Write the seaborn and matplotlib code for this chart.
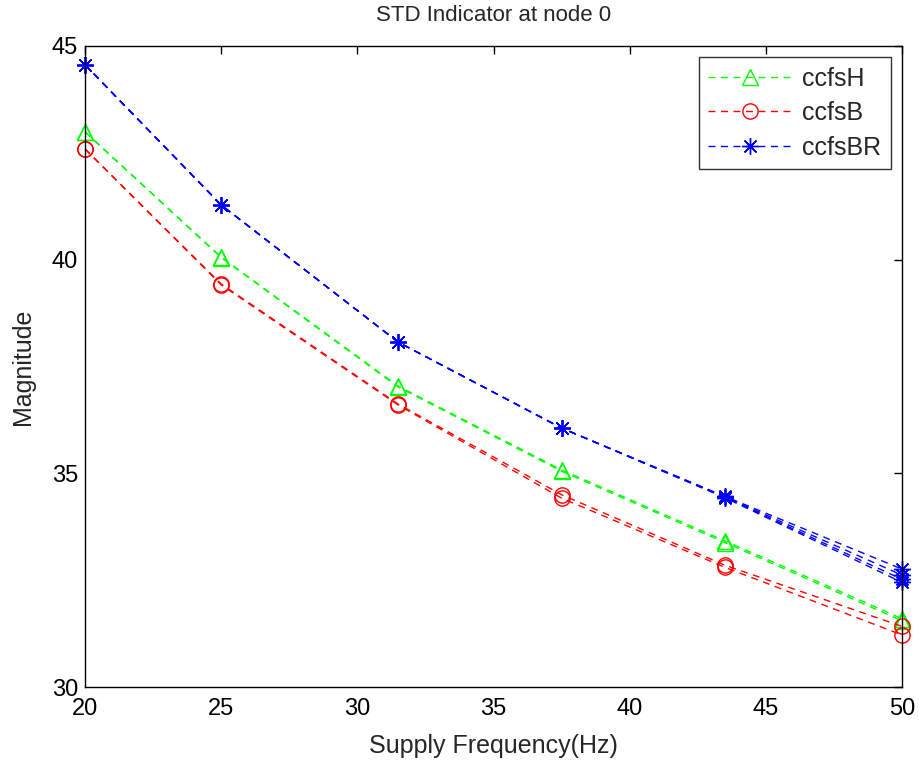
import matplotlib
matplotlib.use("Agg")
import matplotlib.pyplot as plt
import seaborn as sns
import pandas as pd
from matplotlib.lines import Line2D

freq = [20, 25, 31.5, 37.5, 43.5, 50]

# ccfsH runs
ccfsH_runs = [
    [42.99, 40.06, 37.04, 35.08, 33.42, 31.60],
    [42.99, 40.05, 37.02, 35.05, 33.38, 31.55],
]
# ccfsB runs
ccfsB_runs = [
    [42.59, 39.43, 36.62, 34.50, 32.85, 31.42],
    [42.59, 39.41, 36.60, 34.42, 32.80, 31.22],
]
# ccfsBR runs
ccfsBR_runs = [
    [44.56, 41.28, 38.07, 36.06, 34.46, 32.76],
    [44.56, 41.28, 38.07, 36.06, 34.45, 32.62],
    [44.56, 41.28, 38.07, 36.06, 34.44, 32.52],
    [44.56, 41.28, 38.07, 36.06, 34.43, 32.45],
]

series_names = ["ccfsH", "ccfsB", "ccfsBR"]
series_runs = [ccfsH_runs, ccfsB_runs, ccfsBR_runs]
colors = ["#00ff00", "#ff0000", "#0000ff"]
markers = ["^", "o", (8, 2, 0)]
msizes = [12, 11, 12]

rows = []
for name, runs in zip(series_names, series_runs):
    for r, vals in enumerate(runs):
        for f, v in zip(freq, vals):
            rows.append({"freq": f, "value": v, "series": name, "run": r})
df = pd.DataFrame(rows)

sns.set_style("white")
plt.rcParams["font.family"] = ["Liberation Sans", "DejaVu Sans"]

fig = plt.figure(figsize=(9.19, 7.6), dpi=100)
ax = fig.add_axes([0.0925, 0.096, 0.889, 0.8435])

dash = (0, (5, 4))
for name, col, mk, ms in zip(series_names, colors, markers, msizes):
    sub = df[df["series"] == name]
    for r in sorted(sub["run"].unique()):
        d = sub[sub["run"] == r]
        sns.lineplot(data=d, x="freq", y="value", ax=ax, color=col,
                     linewidth=1.0, marker=mk, markersize=ms,
                     markerfacecolor="none", markeredgecolor=col,
                     markeredgewidth=1.0, legend=False,
                     estimator=None, sort=False)
        ln = ax.lines[-1]
        ln.set_linestyle(dash)
        ln.set_clip_on(False)

ax.set_xlim(20, 50)
ax.set_ylim(30, 45)
ax.set_xticks([20, 25, 30, 35, 40, 45, 50])
ax.set_yticks([30, 35, 40, 45])
ax.tick_params(direction="in", length=6, width=1, labelsize=17, colors="black",
               top=True, right=True)
ax.tick_params(axis="x", pad=8)
ax.tick_params(axis="y", pad=5)
for s in ax.spines.values():
    s.set_color("black")
    s.set_linewidth(1.0)
ax.set_xlabel("Supply Frequency(Hz)", fontsize=18, labelpad=10)
ax.set_ylabel("Magnitude", fontsize=18, labelpad=12)
ax.set_title("STD Indicator at node 0", fontsize=16, pad=18)

handles = [Line2D([0], [0], color=c, linestyle=dash, linewidth=1.0,
                  marker=m, markersize=ms,
                  markerfacecolor="none", markeredgecolor=c)
           for c, m, ms in zip(colors, markers, msizes)]
leg = ax.legend(handles, series_names, loc="upper right", fontsize=18,
                frameon=True, fancybox=False, edgecolor="black",
                handlelength=3.3, borderaxespad=0.45, labelspacing=0.42,
                handletextpad=0.45, borderpad=0.38)
leg.get_frame().set_linewidth(1.0)

fig.savefig("out.png", dpi=100, facecolor="white")
